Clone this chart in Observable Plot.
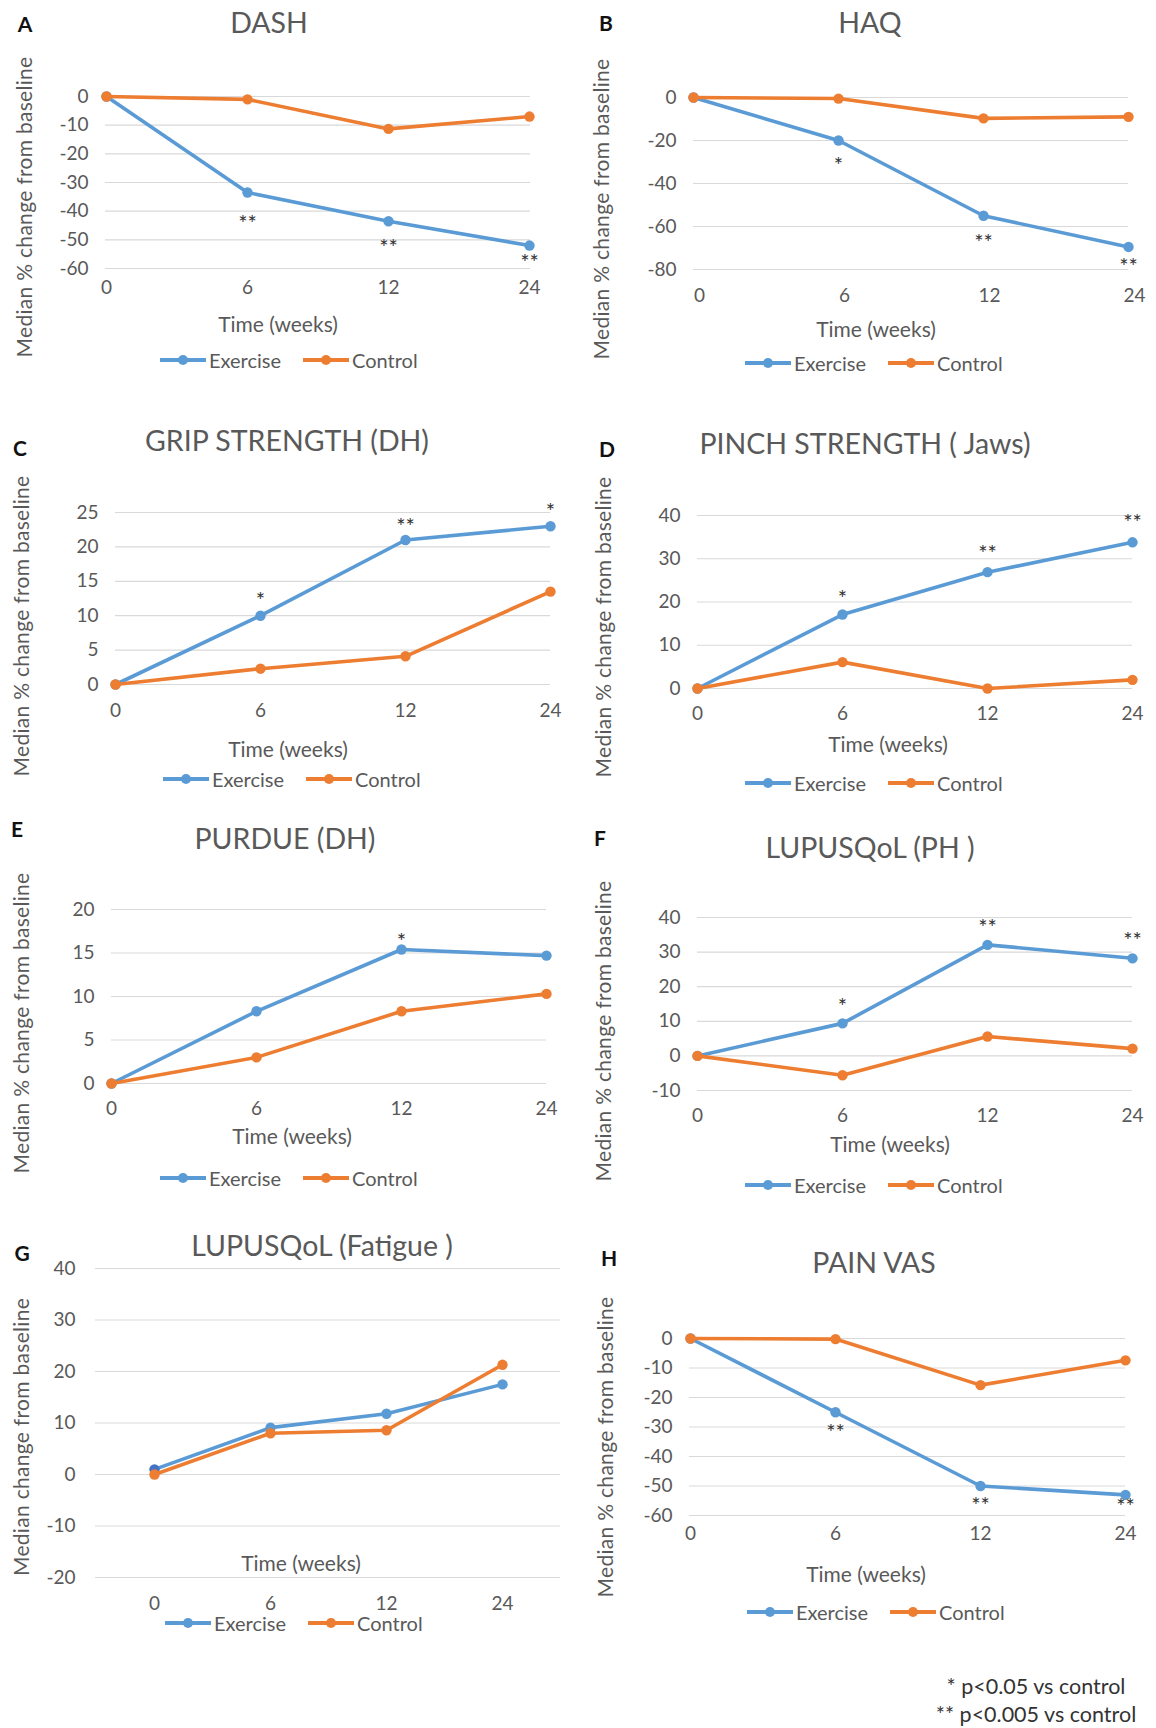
<!DOCTYPE html>
<html>
<head>
<meta charset="utf-8">
<script src="https://cdn.jsdelivr.net/npm/d3@7"></script>
<script src="https://cdn.jsdelivr.net/npm/@observablehq/plot@0.6"></script>
<style>
  html, body { margin: 0; padding: 0; background: #fff; }
  #page { position: relative; width: 1156px; height: 1728px; background: #fff; font-family: Lato, "Open Sans", sans-serif; color: #595959; overflow: hidden; }
  .abs { position: absolute; white-space: nowrap; }
  .center { transform: translate(-50%, -50%); }
  .title { font-size: 28.5px; color: #595959; }
  .letter { font-size: 21px; font-weight: bold; color: #111; }
  .ylab { font-size: 21px; color: #595959; transform: translate(-50%, -50%) rotate(-90deg); letter-spacing: 0.3px; }
  .xlab { font-size: 21px; color: #595959; }
  .legend { display: flex; align-items: center; font-size: 20px; color: #595959; transform: translateY(-50%); }
  .legend svg { display: block; }
  .legend span { margin-right: 22px; margin-left: 3px; }
  .foot { font-size: 21.5px; color: #333; }
  .plotbox { position: absolute; }
  .plotbox svg { max-width: none !important; }
</style>
</head>
<body>
<div id="page"></div>
<script>
// ---------------- data ----------------
const weeks = ["0", "6", "12", "24"];
const seriesNames = ["Exercise", "Control"];
const seriesColors = ["#5B9BD5", "#ED7D31"];

const dashExercise = [0, -33.5, -43.5, -52];
const dashControl = [0, -1, -11.3, -7];
const dashStars = ["", "**", "**", "**"];
const dashTicks = [0, -10, -20, -30, -40, -50, -60];

const haqExercise = [0, -20, -55, -69.5];
const haqControl = [0, -0.5, -9.7, -9];
const haqStars = ["", "*", "**", "**"];
const haqTicks = [0, -20, -40, -60, -80];

const gripExercise = [0, 10, 21, 23];
const gripControl = [0, 2.3, 4.1, 13.5];
const gripStars = ["", "*", "**", "*"];
const gripTicks = [0, 5, 10, 15, 20, 25];

const pinchExercise = [0, 17.1, 26.9, 33.8];
const pinchControl = [0, 6.1, 0, 2];
const pinchStars = ["", "*", "**", "**"];
const pinchTicks = [0, 10, 20, 30, 40];

const purdueExercise = [0, 8.3, 15.4, 14.7];
const purdueControl = [0, 3, 8.3, 10.3];
const purdueStars = ["", "", "*", ""];
const purdueTicks = [0, 5, 10, 15, 20];

const phExercise = [0, 9.4, 32.1, 28.2];
const phControl = [0, -5.6, 5.6, 2.1];
const phStars = ["", "*", "**", "**"];
const phTicks = [-10, 0, 10, 20, 30, 40];

const fatigueExercise = [1, 9.1, 11.8, 17.5];
const fatigueControl = [0, 8, 8.6, 21.3];
const fatigueStars = ["", "", "", ""];
const fatigueTicks = [-20, -10, 0, 10, 20, 30, 40];

const painExercise = [0, -25, -50, -53];
const painControl = [0, -0.2, -15.8, -7.4];
const painStars = ["", "**", "**", "**"];
const painTicks = [0, -10, -20, -30, -40, -50, -60];

const xTitle = "Time (weeks)";
const yTitle = "Median % change from baseline";
const yTitleG = "Median  change from baseline";
const footnotes = ["* p<0.05 vs control", "** p<0.005 vs control"];

// ---------------- layout ----------------
const panels = [
  { letter: "A", title: "DASH", ex: dashExercise, ctrl: dashControl, stars: dashStars, ticks: dashTicks, domain: [-60, 0],
    frame: [105, 530, 96, 268], letterPos: [25, 23], titlePos: [269, 22], yLabPos: [23, 207], xLabPos: [278, 323], legPos: [160, 360], xPad: 12, xDx: 0, starDy: [0, 26, 22, 12] },
  { letter: "B", title: "HAQ", ex: haqExercise, ctrl: haqControl, stars: haqStars, ticks: haqTicks, domain: [-80, 0],
    frame: [693, 1128, 97, 269], letterPos: [606, 22], titlePos: [870, 22], yLabPos: [600, 209], xLabPos: [876, 328], legPos: [745, 363], xPad: 19, xDx: 6, starDy: [0, 20, 22, 15] },
  { letter: "C", title: "GRIP STRENGTH (DH)", ex: gripExercise, ctrl: gripControl, stars: gripStars, ticks: gripTicks, domain: [0, 25],
    frame: [115, 550, 512, 684], letterPos: [20, 447], titlePos: [287, 440], yLabPos: [20, 626], xLabPos: [288, 748], legPos: [163, 779], xPad: 19, xDx: 0, starDy: [0, -20, -18, -19] },
  { letter: "D", title: "PINCH STRENGTH ( Jaws)", ex: pinchExercise, ctrl: pinchControl, stars: pinchStars, ticks: pinchTicks, domain: [0, 40],
    frame: [697, 1132, 515, 688], letterPos: [607, 448], titlePos: [865, 443], yLabPos: [602, 627], xLabPos: [888, 743], legPos: [745, 783], xPad: 18, xDx: 0, starDy: [0, -21, -23, -24] },
  { letter: "E", title: "PURDUE  (DH)", ex: purdueExercise, ctrl: purdueControl, stars: purdueStars, ticks: purdueTicks, domain: [0, 20],
    frame: [111, 546, 909, 1083], letterPos: [17, 828], titlePos: [285, 838], yLabPos: [20, 1023], xLabPos: [292, 1135], legPos: [160, 1178], xPad: 18, xDx: 0, starDy: [0, 0, -13, 0] },
  { letter: "F", title: "LUPUSQoL (PH )", ex: phExercise, ctrl: phControl, stars: phStars, ticks: phTicks, domain: [-10, 40],
    frame: [697, 1132, 917, 1090], letterPos: [600, 837], titlePos: [870, 847], yLabPos: [602, 1031], xLabPos: [890, 1143], legPos: [745, 1185], xPad: 18, xDx: 0, starDy: [0, -21, -22, -22] },
  { letter: "G", title: "LUPUSQoL (Fatigue )", ex: fatigueExercise, ctrl: fatigueControl, stars: fatigueStars, ticks: fatigueTicks, domain: [-20, 40],
    frame: [95, 560, 1268, 1577], letterPos: [22, 1252], titlePos: [322, 1245], yLabPos: [20, 1437], xLabPos: [301, 1562], legPos: [165, 1623], xPad: 19, xDx: 0, starDy: [0, 0, 0, 0], band: true, yLabel: yTitleG, firstDot: "#4472C4" },
  { letter: "H", title: "PAIN VAS", ex: painExercise, ctrl: painControl, stars: painStars, ticks: painTicks, domain: [-60, 0],
    frame: [689, 1125, 1338, 1515], letterPos: [609, 1257], titlePos: [874, 1262], yLabPos: [604, 1447], xLabPos: [866, 1573], legPos: [747, 1612], xPad: 11, xDx: 0, starDy: [0, 16, 15, 7] }
];

const page = document.getElementById("page");

function addDiv(cls, text, x, y) {
  const d = document.createElement("div");
  d.className = "abs " + cls;
  d.textContent = text;
  d.style.left = x + "px";
  d.style.top = y + "px";
  page.appendChild(d);
  return d;
}

function legendSwatch(color) {
  const ns = "http://www.w3.org/2000/svg";
  const svg = document.createElementNS(ns, "svg");
  svg.setAttribute("width", 46); svg.setAttribute("height", 12);
  const l = document.createElementNS(ns, "line");
  l.setAttribute("x1", 0); l.setAttribute("x2", 46); l.setAttribute("y1", 6); l.setAttribute("y2", 6);
  l.setAttribute("stroke", color); l.setAttribute("stroke-width", 3.8);
  const c = document.createElementNS(ns, "circle");
  c.setAttribute("cx", 23); c.setAttribute("cy", 6); c.setAttribute("r", 5); c.setAttribute("fill", color);
  svg.appendChild(l); svg.appendChild(c);
  return svg;
}

const mL = 70, mR = 40, mT = 24, mB = 46;

for (const p of panels) {
  const [x0, x1, y0, y1] = p.frame;
  const width = x1 - x0 + mL + mR;
  const height = y1 - y0 + mT + mB;
  const rows = weeks.map((w, i) => ({ week: w, ex: p.ex[i], ctrl: p.ctrl[i], star: p.stars[i], idx: i }));

  const chart = Plot.plot({
    width, height,
    marginLeft: mL, marginRight: mR, marginTop: mT, marginBottom: mB,
    x: { type: "point", domain: weeks, padding: p.band ? 0.5 : 0 },
    y: { domain: p.domain },
    style: { fontFamily: "Lato, 'Open Sans', sans-serif", fontSize: "19px", color: "#595959", background: "transparent", overflow: "visible", maxWidth: "none" },
    marks: [
      Plot.ruleY(p.ticks, { stroke: "#d9d9d9", strokeWidth: 1.2 }),
      Plot.axisY({ ticks: p.ticks, tickSize: 0, tickPadding: p.band ? 20 : 17, label: null, tickFormat: d => String(d) }),
      Plot.axisX({ tickSize: 0, tickPadding: p.xPad, dx: p.xDx, label: null }),
      Plot.line(rows, { x: "week", y: "ex", stroke: seriesColors[0], strokeWidth: 3.6 }),
      Plot.dot(rows, { x: "week", y: "ex", r: 5.2, fill: d => (p.firstDot && d.idx === 0) ? p.firstDot : seriesColors[0], stroke: "none" }),
      Plot.line(rows, { x: "week", y: "ctrl", stroke: seriesColors[1], strokeWidth: 3.6 }),
      Plot.dot(rows, { x: "week", y: "ctrl", r: 5.2, fill: seriesColors[1], stroke: "none" }),
      ...rows.map((r, i) => Plot.text([r], { x: "week", y: "ex", text: "star", dy: p.starDy[i] + 5, fontSize: 22, fill: "#333" }))
    ]
  });
  chart.style.maxWidth = "none";
  const box = document.createElement("div");
  box.className = "plotbox";
  box.style.left = (x0 - mL) + "px";
  box.style.top = (y0 - mT) + "px";
  box.style.width = width + "px";
  box.style.height = height + "px";
  box.appendChild(chart);
  page.appendChild(box);

  addDiv("letter center", p.letter, p.letterPos[0], p.letterPos[1]);
  addDiv("title center", p.title, p.titlePos[0], p.titlePos[1]);
  addDiv("ylab", p.yLabel || yTitle, p.yLabPos[0], p.yLabPos[1]);
  addDiv("xlab center", xTitle, p.xLabPos[0], p.xLabPos[1]);

  const leg = document.createElement("div");
  leg.className = "abs legend";
  leg.style.left = p.legPos[0] + "px";
  leg.style.top = p.legPos[1] + "px";
  seriesNames.forEach((name, i) => {
    leg.appendChild(legendSwatch(seriesColors[i]));
    const s = document.createElement("span");
    s.textContent = name;
    leg.appendChild(s);
  });
  page.appendChild(leg);
}

addDiv("foot center", footnotes[0], 1036, 1686);
addDiv("foot center", footnotes[1], 1036, 1714);
</script>
</body>
</html>
